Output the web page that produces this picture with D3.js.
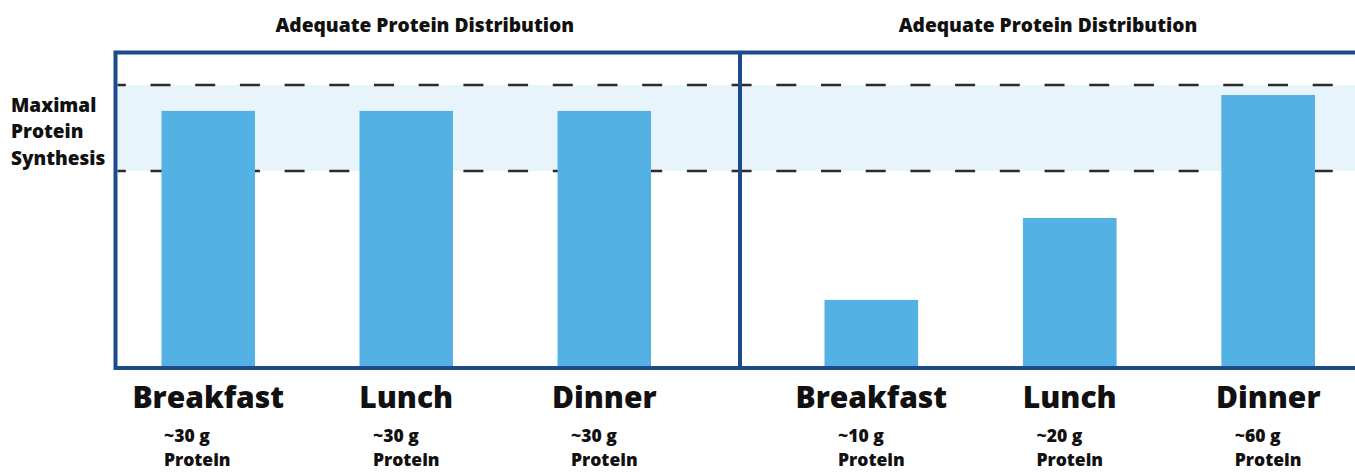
<!DOCTYPE html>
<html>
<head>
<meta charset="utf-8">
<script src="https://cdn.jsdelivr.net/npm/d3@7/dist/d3.min.js"></script>
<style>
  html, body { margin: 0; padding: 0; background: #ffffff; }
  svg { display: block; }
  text { font-family: "Open Sans", "Noto Sans", sans-serif; font-weight: 800; fill: #111111; }
</style>
</head>
<body>
<svg id="chart" width="1355" height="472"></svg>
<script>
// Meals shown in each panel
const meals = ["Breakfast", "Lunch", "Dinner"];

// Panel headings
const panelTitles = ["Adequate Protein Distribution", "Adequate Protein Distribution"];

// Protein per meal (grams)
const evenProtein = [30, 30, 30];
const skewedProtein = [10, 20, 60];

// Muscle protein synthesis response to a meal's protein (relative units, saturating)
const responseGrams = [0, 10, 20, 30, 60];
const responseLevel = [0, 22.7, 50, 85.7, 91];

// Range of the maximal synthesis zone (relative units)
const maximalZone = [65.7, 94.3];
const zoneLabel = ["Maximal", "Protein", "Synthesis"];

const panels = [
  { title: panelTitles[0], grams: evenProtein },
  { title: panelTitles[1], grams: skewedProtein }
];

const svg = d3.select("#chart");

// Layout
const frameLeft = 115.5, frameTop = 52.5, frameBottom = 368, divider = 740, frameRight = 1370;
const panelRanges = [[161.5, 651], [824.5, 1315]];

const response = d3.scaleLinear().domain(responseGrams).range(responseLevel);
const y = d3.scaleLinear().domain([0, 100]).range([frameBottom, 68]);

const colors = {
  frame: "#1d4a8b",
  bar: "#53b1e3",
  zone: "#e8f4fb",
  dash: "#2a2a2a"
};

// Maximal synthesis zone
svg.append("rect")
  .attr("x", frameLeft + 2)
  .attr("y", y(maximalZone[1]))
  .attr("width", frameRight - frameLeft)
  .attr("height", y(maximalZone[0]) - y(maximalZone[1]))
  .attr("fill", colors.zone);

svg.selectAll("line.zone-edge")
  .data(maximalZone)
  .join("line")
  .attr("class", "zone-edge")
  .attr("x1", frameLeft + 2)
  .attr("x2", frameRight)
  .attr("y1", d => y(d))
  .attr("y2", d => y(d))
  .attr("stroke", colors.dash)
  .attr("stroke-width", 2.5)
  .attr("stroke-dasharray", "20,24.7")
  .attr("stroke-dashoffset", 11.7);

// Zone label
svg.append("text")
  .attr("font-size", 19)
  .selectAll("tspan")
  .data(zoneLabel)
  .join("tspan")
  .attr("x", 11)
  .attr("y", (d, i) => 111.5 + i * 26.5)
  .text(d => d);

// Panels
panels.forEach((p, pi) => {
  const x = d3.scaleBand()
    .domain(meals)
    .range(panelRanges[pi])
    .paddingInner(0.528)
    .paddingOuter(0);

  const g = svg.append("g");

  g.selectAll("rect.bar")
    .data(meals.map((m, i) => ({ meal: m, grams: p.grams[i] })))
    .join("rect")
    .attr("class", "bar")
    .attr("x", d => x(d.meal))
    .attr("width", x.bandwidth())
    .attr("y", d => y(response(d.grams)))
    .attr("height", d => frameBottom - y(response(d.grams)))
    .attr("fill", colors.bar);

  // Panel heading
  const panelLeft = pi === 0 ? frameLeft : divider;
  const panelRight = pi === 0 ? divider : 1362;
  g.append("text")
    .attr("x", (panelLeft + panelRight) / 2 - 3)
    .attr("y", 32)
    .attr("text-anchor", "middle")
    .attr("font-size", 19.2)
    .text(p.title);

  // Meal names
  g.selectAll("text.meal")
    .data(meals)
    .join("text")
    .attr("class", "meal")
    .attr("x", d => x(d) + x.bandwidth() / 2)
    .attr("y", 408)
    .attr("text-anchor", "middle")
    .attr("font-size", 30)
    .text(d => d);

  // Protein amounts
  meals.forEach((m, i) => {
    const cx = x(m) + x.bandwidth() / 2;
    const t = g.append("text").attr("font-size", 17.5);
    t.append("tspan").attr("y", 442).text(`~${p.grams[i]} g`);
    t.append("tspan").attr("y", 466).text("Protein");
    const w = t.select("tspan:last-child").node().getComputedTextLength();
    const shift = (pi === 0 && i === 0) ? -11 : 0;
    t.selectAll("tspan").attr("x", cx - w / 2 + shift);
  });
});

// Panel frames
svg.append("path")
  .attr("d", `M${frameRight},${frameTop}H${frameLeft}V${frameBottom}H${frameRight}M${divider},${frameTop}V${frameBottom}`)
  .attr("fill", "none")
  .attr("stroke", colors.frame)
  .attr("stroke-width", 4);
</script>
</body>
</html>
